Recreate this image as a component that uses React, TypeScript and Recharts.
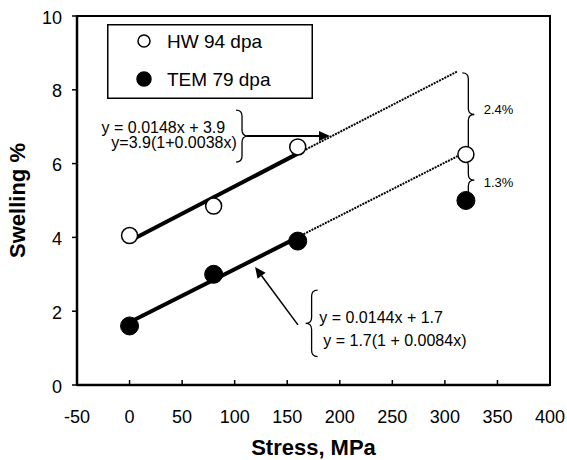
import React from "react";
import {
  ComposedChart,
  XAxis,
  YAxis,
  Scatter,
  Line,
  Legend,
  ReferenceLine,
  ReferenceDot,
  ReferenceArea,
} from "recharts";

const FONT = "'Liberation Sans', Arial, sans-serif";

// measured points
const stress = [0, 80, 160, 320];
const hwSwelling = [4.05, 4.85, 6.45, 6.25];
const temSwelling = [1.6, 3.0, 3.9, 5.0];

// linear fits: solid over the fitted range, dotted extrapolation
const hwFitX = [0, 160];
const hwFitY = [3.9, 6.27];
const hwExtX = [160, 312];
const hwExtY = [6.27, 8.5];
const temFitX = [0, 160];
const temFitY = [1.7, 4.0];
const temExtX = [0, 312];
const temExtY = [1.7, 6.2];

const xTicks = [-50, 0, 50, 100, 150, 200, 250, 300, 350, 400];
const yTicks = [0, 2, 4, 6, 8, 10];

const seriesNames = ["HW 94 dpa", "TEM 79 dpa"];

const toPts = (xs: number[], ys: number[]) => xs.map((x, i) => ({ x, y: ys[i] }));

// annotation texts (data coordinates)
const notes = [
  { x: 91, y: 6.98, text: "y = 0.0148x + 3.9", anchor: "end", size: 16 },
  { x: 102, y: 6.56, text: "y=3.9(1+0.0038x)", anchor: "end", size: 16 },
  { x: 180.5, y: 1.83, text: "y = 0.0144x + 1.7", anchor: "start", size: 16 },
  { x: 184.3, y: 1.2, text: "y = 1.7(1 + 0.0084x)", anchor: "start", size: 16 },
  { x: 337, y: 7.46, text: "2.4%", anchor: "start", size: 13 },
  { x: 337, y: 5.5, text: "1.3%", anchor: "start", size: 13 },
];

// braces: vertical segment, dir 1 = "}" , -1 = "{"
const braces = [
  { x: 107, y1: 7.45, y2: 6.04, dir: 1 },
  { x: 173.2, y1: 2.57, y2: 0.77, dir: -1 },
  { x: 322.3, y1: 8.46, y2: 6.2, dir: 1 },
  { x: 322.3, y1: 6.1, y2: 5.0, dir: 1 },
];

const arrows = [
  { from: [111.8, 6.75], to: [190.7, 6.75], width: 2 },
  { from: [160.2, 1.63], to: [119.4, 3.2], width: 1.5 },
];

function bracePath(x: number, ya: number, yb: number, dir: number) {
  const top = Math.min(ya, yb);
  const bot = Math.max(ya, yb);
  const ym = (top + bot) / 2;
  const w = 6 * dir;
  const c = 6;
  return `M${x - w},${top} Q${x},${top} ${x},${top + c} L${x},${ym - c} Q${x},${ym} ${x + w},${ym} Q${x},${ym} ${x},${ym + c} L${x},${bot - c} Q${x},${bot} ${x - w},${bot}`;
}

function arrowShape(width: number) {
  return (p: any) => {
    const { x1, y1, x2, y2 } = p;
    const ang = Math.atan2(y2 - y1, x2 - x1);
    const len = 11;
    const hw = 5;
    const bx = x2 - len * Math.cos(ang);
    const by = y2 - len * Math.sin(ang);
    const nx = -Math.sin(ang) * hw;
    const ny = Math.cos(ang) * hw;
    return (
      <g>
        <line x1={x1} y1={y1} x2={bx} y2={by} stroke="#000" strokeWidth={width} />
        <polygon points={`${x2},${y2} ${bx + nx},${by + ny} ${bx - nx},${by - ny}`} fill="#000" />
      </g>
    );
  };
}

const XTick = (props: any) => {
  const { x, y, payload } = props;
  return (
    <g>
      <line x1={x} y1={y - 10} x2={x} y2={y - 15} stroke="#000" strokeWidth={1.5} />
      <text x={x} y={y + 28} textAnchor="middle" fontSize={18} fill="#000" fontFamily={FONT}>
        {payload.value}
      </text>
    </g>
  );
};

const YTick = (props: any) => {
  const { x, y, payload } = props;
  return (
    <text x={x} y={y + 1.5} textAnchor="end" dominantBaseline="central" fontSize={18} fill="#000" fontFamily={FONT}>
      {payload.value}
    </text>
  );
};

const renderLegend = (props: any) => {
  const items = (props.payload || []).filter((e: any) => seriesNames.includes(e.value));
  return (
    <svg width={206} height={75}>
      <rect x={0.75} y={0.75} width={204.5} height={73.5} fill="#fff" stroke="#000" strokeWidth={1.5} />
      {items.map((e: any, i: number) => {
        const filled = e.value === seriesNames[1];
        const cy = 17 + i * 38;
        return (
          <g key={e.value}>
            <circle cx={37} cy={cy} r={filled ? 7 : 6} fill={filled ? "#000" : "#fff"} stroke="#000" strokeWidth={1.5} />
            <text x={60} y={cy + 6.5} fontSize={19} fontFamily={FONT} fill="#000">
              {e.value}
            </text>
          </g>
        );
      })}
    </svg>
  );
};

export default function App() {
  const hwPts = toPts(stress, hwSwelling);
  const temPts = toPts(stress, temSwelling);
  return (
    <>
      <style>{"body{margin:0;overflow:hidden}"}</style>
      <ComposedChart
        width={567}
        height={460}
        margin={{ top: 16, right: 17, left: 8, bottom: 0 }}
        style={{ fontFamily: FONT }}
      >
        <XAxis
          dataKey="x"
          type="number"
          domain={[-50, 400]}
          ticks={xTicks}
          interval={0}
          height={75}
          tickSize={0}
          tickMargin={10}
          tick={<XTick />}
          axisLine={{ stroke: "#000", strokeWidth: 2.5 }}
          label={{ value: "Stress, MPa", position: "insideBottom", offset: 5, fontSize: 22, fontWeight: "bold", fill: "#000" }}
        />
        <YAxis
          dataKey="y"
          type="number"
          domain={[0, 10]}
          ticks={yTicks}
          interval={0}
          width={69}
          tickSize={5}
          tickMargin={10}
          tick={<YTick />}
          tickLine={{ stroke: "#000", strokeWidth: 1.5 }}
          axisLine={{ stroke: "#000", strokeWidth: 2.5 }}
          label={{
            content: (p: any) => {
              const vb = p.viewBox;
              const cy = vb.y + vb.height / 2;
              return (
                <text x={25} y={cy} transform={`rotate(-90, 25, ${cy})`} textAnchor="middle" fontSize={22} fontWeight="bold" fill="#000" fontFamily={FONT}>
                  Swelling %
                </text>
              );
            },
          }}
        />
        <ReferenceArea x1={-50} x2={400} y1={0} y2={10} fill="none" stroke="#000" strokeWidth={2} />
        <Legend
          layout="horizontal"
          verticalAlign="middle"
          align="center"
          content={renderLegend}
          wrapperStyle={{ position: "absolute", left: 107, top: 24, width: 206, height: 75 }}
        />
        <Scatter
          name={seriesNames[0]}
          data={hwPts}
          isAnimationActive={false}
          shape={(p: any) => <circle cx={p.cx} cy={p.cy} r={8} fill="#fff" stroke="#000" strokeWidth={1.5} />}
        />
        <Scatter
          name={seriesNames[1]}
          data={temPts}
          isAnimationActive={false}
          shape={(p: any) => <circle cx={p.cx} cy={p.cy} r={9} fill="#000" stroke="#000" strokeWidth={1} />}
        />
        <Line data={toPts(hwExtX, hwExtY)} dataKey="y" type="linear" stroke="#000" strokeWidth={2} strokeDasharray="2 1" dot={false} activeDot={false} legendType="none" isAnimationActive={false} />
        <Line data={toPts(temExtX, temExtY)} dataKey="y" type="linear" stroke="#000" strokeWidth={2} strokeDasharray="2 1" dot={false} activeDot={false} legendType="none" isAnimationActive={false} />
        <Line data={toPts(hwFitX, hwFitY)} dataKey="y" type="linear" stroke="#000" strokeWidth={4} dot={false} activeDot={false} legendType="none" isAnimationActive={false} />
        <Line data={toPts(temFitX, temFitY)} dataKey="y" type="linear" stroke="#000" strokeWidth={4} dot={false} activeDot={false} legendType="none" isAnimationActive={false} />
        {braces.map((b, i) => (
          <ReferenceLine
            key={`b${i}`}
            segment={[{ x: b.x, y: b.y1 }, { x: b.x, y: b.y2 }]}
            shape={(p: any) => (
              <path d={bracePath(p.x1, p.y1, p.y2, b.dir)} fill="none" stroke="#000" strokeWidth={1.3} />
            )}
          />
        ))}
        {arrows.map((a, i) => (
          <ReferenceLine
            key={`a${i}`}
            segment={[{ x: a.from[0], y: a.from[1] }, { x: a.to[0], y: a.to[1] }]}
            shape={arrowShape(a.width)}
          />
        ))}
        {notes.map((n, i) => (
          <ReferenceDot
            key={`n${i}`}
            x={n.x}
            y={n.y}
            r={0}
            shape={(p: any) => (
              <text x={p.cx} y={p.cy} textAnchor={n.anchor} dominantBaseline="central" fontSize={n.size} fill="#000" fontFamily={FONT}>
                {n.text}
              </text>
            )}
          />
        ))}
      </ComposedChart>
    </>
  );
}
